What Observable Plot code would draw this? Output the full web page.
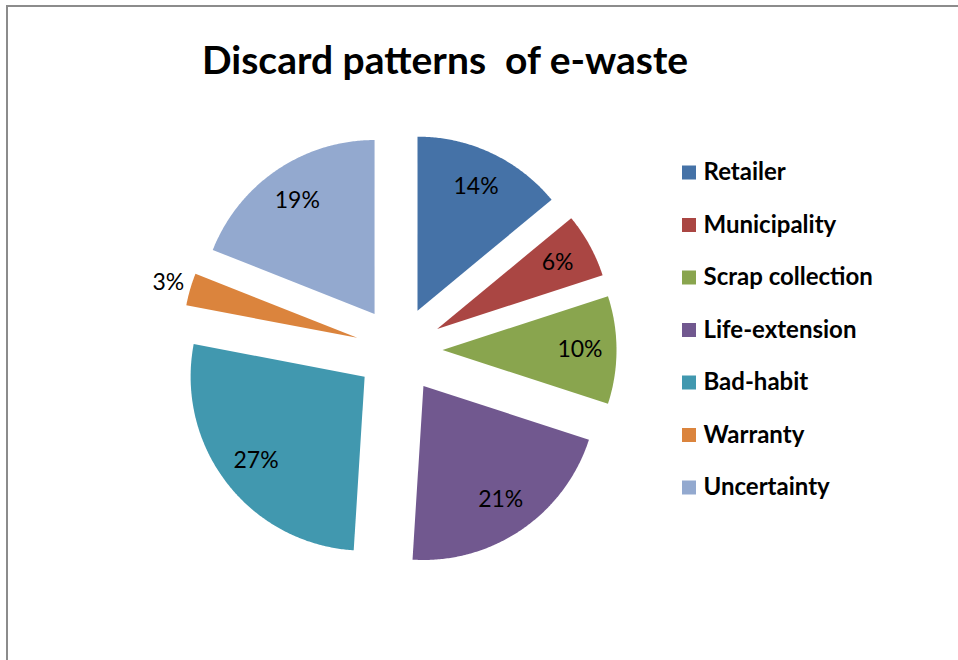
<!DOCTYPE html>
<html>
<head>
<meta charset="utf-8">
<script src="https://cdn.jsdelivr.net/npm/d3@7"></script>
<script src="https://cdn.jsdelivr.net/npm/@observablehq/plot@0.6"></script>
<style>
  html, body { margin: 0; padding: 0; background: #fff; overflow: hidden; }
  #wrap { position: relative; width: 958px; height: 660px; overflow: hidden; }
  #frame { position: absolute; left: 6px; top: 5px; width: 1000px; height: 700px;
           border-top: 2px solid #8c8c8c; border-left: 2px solid #8c8c8c; }
  #title { position: absolute; left: 202px; top: 36px; margin: 0;
           font-family: Lato, sans-serif; font-weight: bold; font-size: 39px;
           line-height: 1.2; color: #000; white-space: pre; }
  #chart { position: absolute; left: 0; top: 100px; }
</style>
</head>
<body>
<div id="wrap">
  <div id="frame"></div>
  <div id="title">Discard patterns  of e-waste</div>
  <div id="chart"></div>
</div>
<script>
// ---- data ----
const categories = ["Retailer", "Municipality", "Scrap collection", "Life-extension", "Bad-habit", "Warranty", "Uncertainty"];
const percents = [14, 6, 10, 21, 27, 3, 19];
const colors = ["#4572A7", "#AA4643", "#89A54E", "#71588F", "#4198AF", "#DB843D", "#93A9CF"];

// ---- layout ----
const W = 958, H = 560;
const pxPerUnit = 174;           // pie radius in px (radius = 1 unit)
const cx = 398.5, cy = 249.5;    // pie centre in svg px
const explode = 0.25;            // explosion as fraction of radius
const labelFrac = 0.79;          // inside label distance from slice tip
const outsideFrac = 1.13;        // outside label distance for small slices

const xDomain = [-cx / pxPerUnit, (W - cx) / pxPerUnit];
const yDomain = [-(H - cy) / pxPerUnit, cy / pxPerUnit];

const arcs = d3.pie().sort(null).value(d => d.value)
  .startAngle(0).endAngle(2 * Math.PI)(categories.map((key, i) => ({key, value: percents[i]})));

const slicePts = [];
const labelPts = [];
for (const a of arcs) {
  const mid = (a.startAngle + a.endAngle) / 2;
  const ox = explode * Math.sin(mid), oy = explode * Math.cos(mid);
  const key = a.data.key;
  slicePts.push({key, x: ox, y: oy});
  const n = Math.max(2, Math.ceil((a.endAngle - a.startAngle) / (Math.PI / 360)));
  for (let k = 0; k <= n; k++) {
    const t = a.startAngle + (a.endAngle - a.startAngle) * k / n;
    slicePts.push({key, x: ox + Math.sin(t), y: oy + Math.cos(t)});
  }
  const f = a.data.value < 5 ? outsideFrac : labelFrac;
  labelPts.push({key, text: a.data.value + "%", x: ox + f * Math.sin(mid), y: oy + f * Math.cos(mid)});
}

// legend positions (in pie units)
const legendX = (688.5 - cx) / pxPerUnit;
const legendTextX = (703 - cx) / pxPerUnit;
const legendTop = (cy - 72) / pxPerUnit;
const legendStep = 52.5 / pxPerUnit;

const plot = Plot.plot({
  width: W, height: H, margin: 0,
  x: {domain: xDomain, range: [0, W], axis: null},
  y: {domain: yDomain, range: [H, 0], axis: null},
  color: {domain: categories, range: colors},
  style: {fontFamily: "Lato, sans-serif", background: "transparent", overflow: "visible"},
  marks: [
    Plot.line(slicePts, {x: "x", y: "y", z: "key", fill: "key", stroke: "none", curve: "linear-closed"}),
    Plot.text(labelPts, {x: "x", y: "y", text: "text", fontSize: 23, fill: "#000"}),
    Plot.dot(categories, {x: () => legendX, y: (d, i) => legendTop - i * legendStep,
      symbol: "square", r: 14 / Math.sqrt(Math.PI), fill: d => d, stroke: "none"}),
    Plot.text(categories, {x: () => legendTextX, y: (d, i) => legendTop - i * legendStep,
      text: d => d, textAnchor: "start", fontWeight: "bold", fontSize: 24, fill: "#000"})
  ]
});
document.getElementById("chart").appendChild(plot);
</script>
</body>
</html>
